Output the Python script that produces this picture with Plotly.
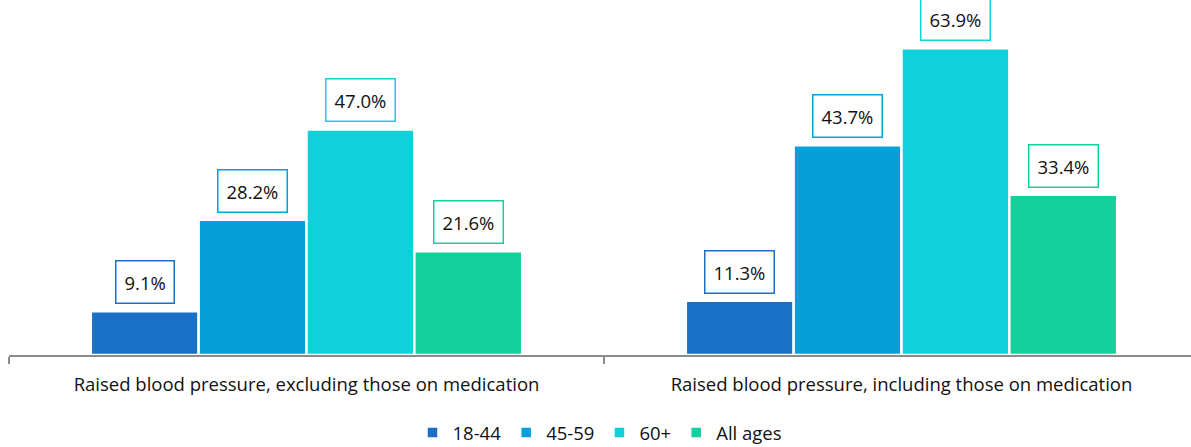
import plotly.graph_objects as go

categories = ["Raised blood pressure, excluding those on medication",
              "Raised blood pressure, including those on medication"]
series_names = ["18-44", "45-59", "60+", "All ages"]
values_18_44 = [9.1, 11.3]
values_45_59 = [28.2, 43.7]
values_60p = [47.0, 63.9]
values_all = [21.6, 33.4]
colors = ["#1A6FC6", "#079FD8", "#10D0DA", "#14D19B"]

all_values = [values_18_44, values_45_59, values_60p, values_all]
FONT = "Open Sans"
bargap = 0.275
n = len(series_names)
xs = list(range(len(categories)))

fig = go.Figure()
for name, vals, col in zip(series_names, all_values, colors):
    fig.add_trace(go.Bar(x=xs, y=vals, name=name,
                         marker=dict(color=col, line=dict(color="white", width=2.5))))

w = (1 - bargap) / n
for j, (vals, col) in enumerate(zip(all_values, colors)):
    for i, v in enumerate(vals):
        fig.add_annotation(x=i + (j - (n - 1) / 2) * w, y=v, xref="x", yref="y",
                           text=f"{v:.1f}%", showarrow=False, yanchor="bottom",
                           yshift=7, bgcolor="white", bordercolor=col,
                           borderwidth=1.5, borderpad=8,
                           font=dict(family=FONT, size=18.5, color="#111111"))

W, H = 1191, 447
ml, mr, mt, mb = 9, 0, 19, 92
cat_px = 595
fig.update_layout(
    width=W, height=H,
    margin=dict(l=ml, r=mr, t=mt, b=mb, autoexpand=False),
    paper_bgcolor="white", plot_bgcolor="white",
    barmode="group", bargap=bargap, bargroupgap=0,
    showlegend=True,
    legend=dict(orientation="h", x=0.5, xanchor="center", y=-0.232, yanchor="middle",
                font=dict(family=FONT, size=18.5, color="#111111"),
                itemwidth=30, traceorder="normal"),
    font=dict(family=FONT, size=18.5, color="#111111"),
)
fig.update_xaxes(
    range=[-0.5, -0.5 + (W - ml - mr) / cat_px],
    tickmode="array", tickvals=xs, ticktext=categories,
    ticks="", showgrid=False, zeroline=False,
    showline=True, linecolor="#8c8c8c", linewidth=1.5,
    ticklabelstandoff=12,
    tickfont=dict(family=FONT, size=18.5, color="#111111"),
    minor=dict(tick0=-0.5, dtick=1, ticks="outside", ticklen=7,
               tickcolor="#8c8c8c", tickwidth=1.5, showgrid=False),
)
fig.update_yaxes(range=[0, 70], visible=False, showgrid=False)

fig.write_html("out.html", config={"displayModeBar": False},
               post_script="document.body.style.margin='0';document.body.style.overflow='hidden';")
